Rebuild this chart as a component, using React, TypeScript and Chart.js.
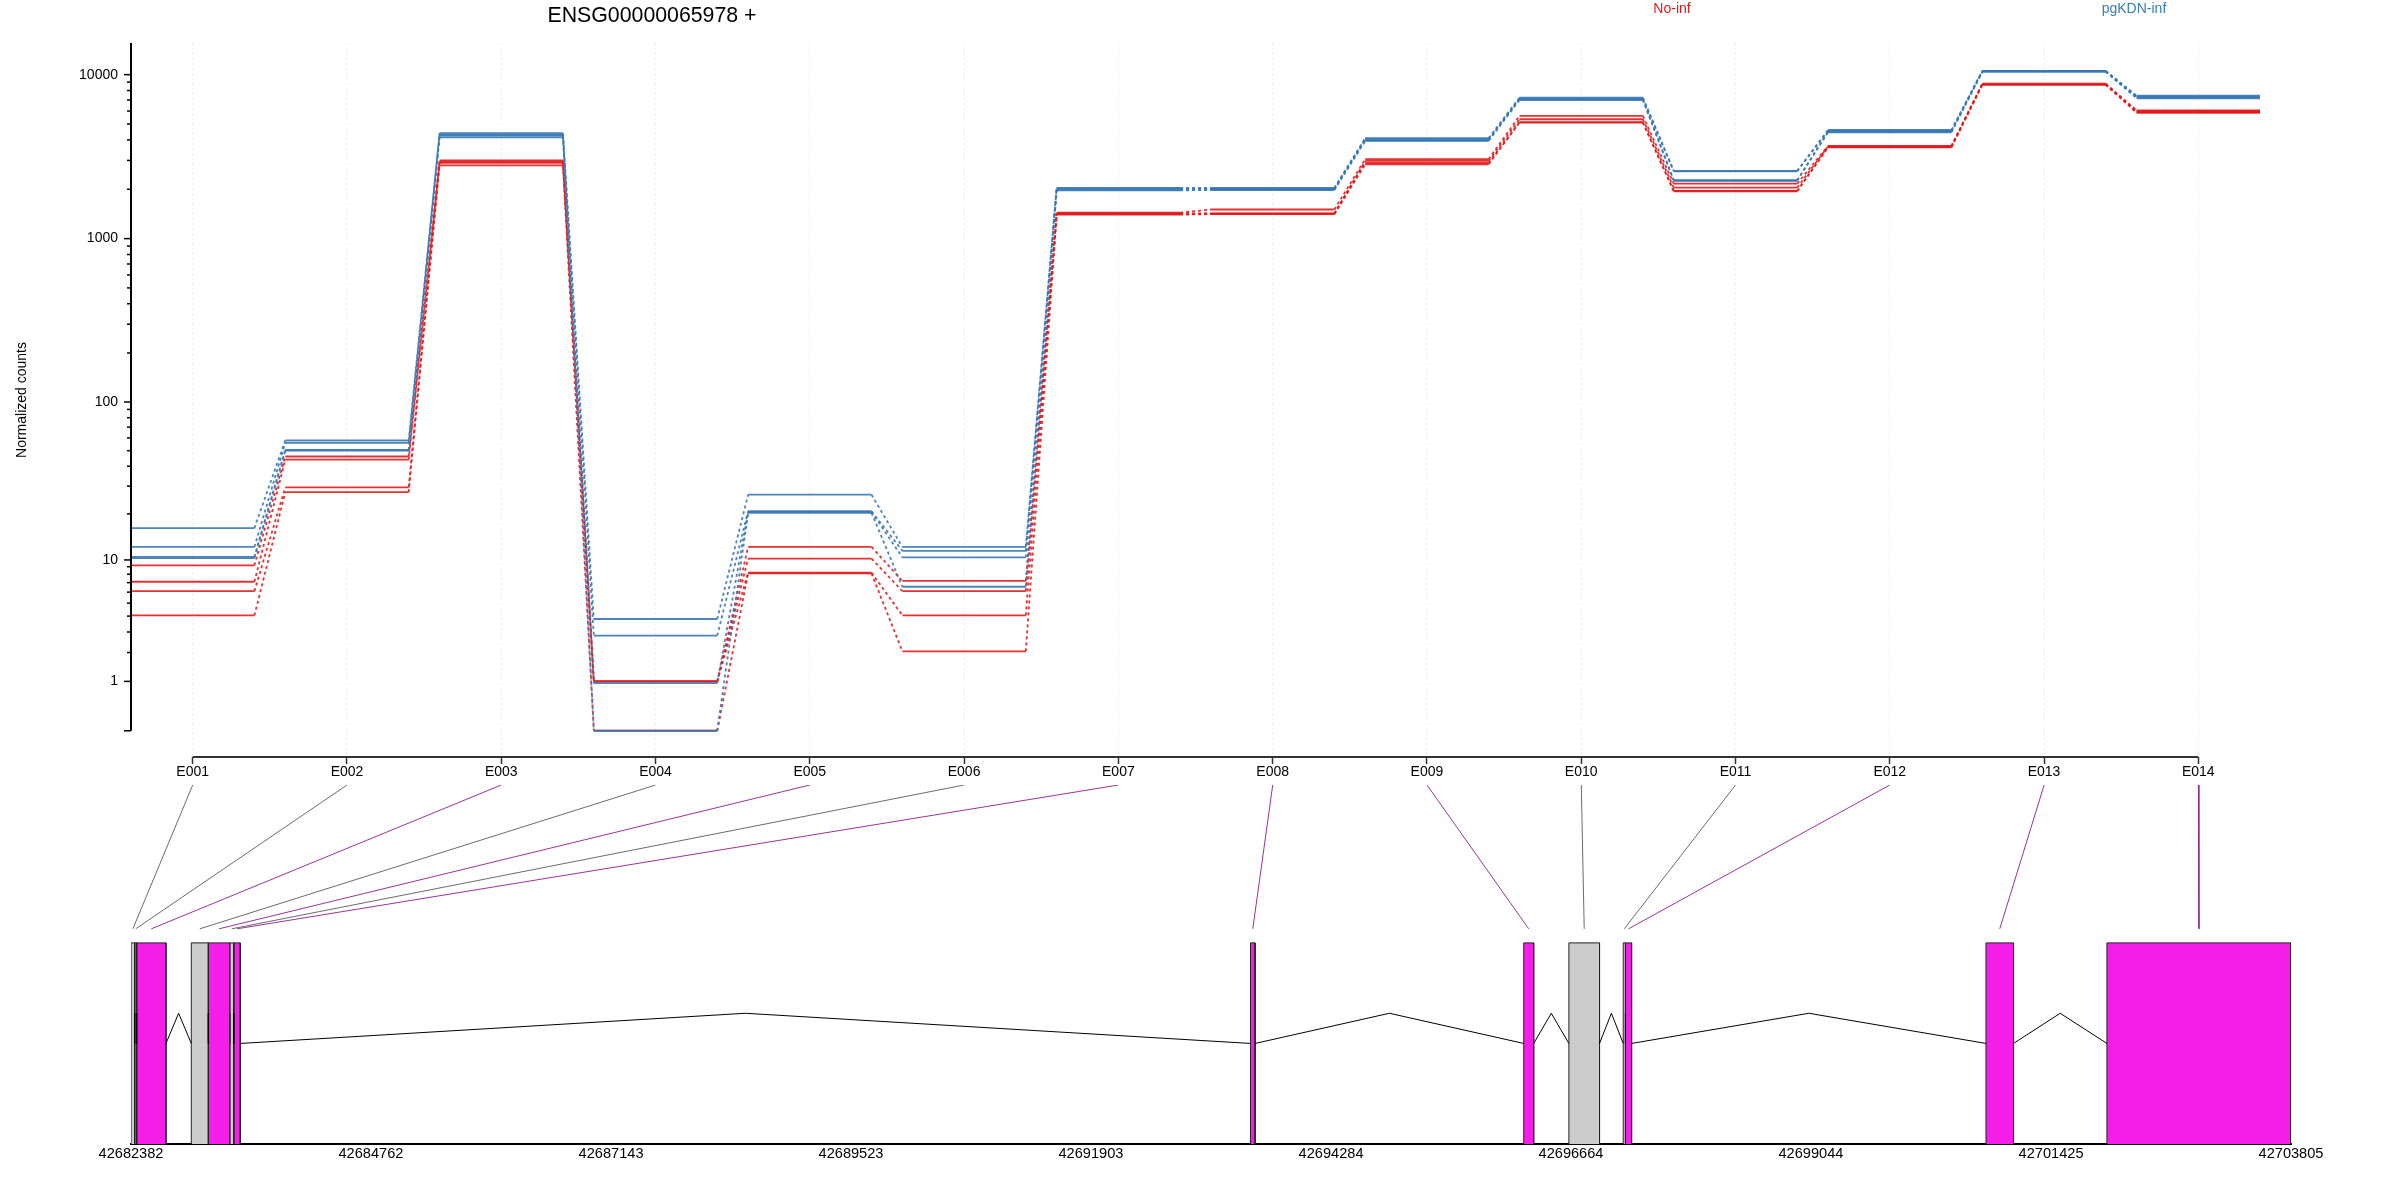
import React, { useEffect, useRef } from 'react';
import { Chart, registerables } from 'chart.js';

Chart.register(...registerables);
Chart.defaults.font.family = '"Liberation Sans", Arial, sans-serif';
Chart.defaults.font.size = 14;
Chart.defaults.color = '#000000';

// Exon bins along the gene
const exonNames = ['E001', 'E002', 'E003', 'E004', 'E005', 'E006', 'E007', 'E008', 'E009', 'E010', 'E011', 'E012', 'E013', 'E014'];

// Normalized counts per exon, one list per sample
const noInf1 = [9.2, 46, 3000, 1, 12.2, 7.2, 1440, 1505, 3050, 5600, 2163, 3680, 8800, 6050];
const noInf2 = [7.1, 44, 2950, 1, 10.2, 6.1, 1425, 1425, 2977, 5346, 2046, 3650, 8760, 5980];
const noInf3 = [6.1, 29.5, 2900, 1, 8.2, 4.05, 1410, 1420, 2895, 5128, 1954, 3630, 8720, 5920];
const noInf4 = [4.05, 27.5, 2800, 0, 8.1, 2.05, 1400, 1410, 2843, 5100, 1945, 3600, 8680, 5850];
const pgKdn1 = [16.2, 58, 4400, 3.8, 26.5, 12.2, 2040, 2040, 4100, 7250, 2590, 4600, 10550, 7450];
const pgKdn2 = [12.2, 56, 4300, 2.8, 20.8, 11.5, 2020, 2020, 4050, 7150, 2575, 4550, 10500, 7350];
const pgKdn3 = [10.5, 50.5, 4250, 0.95, 20.6, 10.4, 1990, 2000, 3980, 7100, 2270, 4500, 10450, 7280];
const pgKdn4 = [10.3, 50, 4150, 0, 20.3, 6.55, 1970, 1980, 3950, 7000, 2255, 4450, 10420, 7180];

// Count axis ticks
const majorCounts = [0, 1, 10, 100, 1000, 10000];
const minorCounts = [2, 3, 4, 5, 6, 7, 8, 9, 20, 30, 40, 50, 60, 70, 80, 90, 200, 300, 400, 500, 600, 700, 800, 900, 2000, 3000, 4000, 5000, 6000, 7000, 8000, 9000];

// Gene model: genomic start and end of each exon bin
const exonStarts = [42682382, 42682419, 42682438, 42682980, 42683149, 42683361, 42683401, 42693485, 42696195, 42696643, 42697182, 42697204, 42700780, 42701979];
const exonEnds = [42682419, 42682438, 42682729, 42683149, 42683361, 42683401, 42683466, 42693531, 42696294, 42696947, 42697204, 42697265, 42701053, 42703805];
const exonTested = [false, false, true, false, true, false, true, true, true, false, false, true, true, true];
const genomeTicks = [42682382, 42684762, 42687143, 42689523, 42691903, 42694284, 42696664, 42699044, 42701425, 42703805];

const RED = 'rgba(228,26,28,0.9)';
const BLUE = 'rgba(55,120,180,0.9)';
const MAGENTA = 'rgb(245,30,232)';
const GRAY = 'rgb(204,204,204)';

// the y axis is log10(count + 1)
const toY = (count: number) => Math.log10(count + 1);

const sampleLine = (values: number[], color: string) => ({
    data: values.flatMap((v, i) => [
        { x: i + 1 - 0.4, y: toY(v) },
        { x: i + 1 + 0.4, y: toY(v) },
    ]),
    borderColor: color,
    borderWidth: 1.8,
    pointRadius: 0,
    tension: 0,
    segment: {
        // odd segments join one exon to the next
        borderDash: (ctx: any) => (ctx.p0DataIndex % 2 === 1 ? [3, 3] : undefined),
    },
});

// Draws the axis lines and count ticks, and the loose labels of the top panel
const countAxisPlugin = {
    id: 'countAxis',
    afterDraw(chart: any) {
        const { ctx, scales } = chart;
        const yScale = scales.y;
        const xScale = scales.x;
        const left = chart.chartArea.left;
        ctx.save();
        ctx.strokeStyle = '#000000';
        ctx.lineWidth = 2;
        ctx.beginPath();
        ctx.moveTo(left, yScale.top);
        ctx.lineTo(left, yScale.getPixelForValue(toY(0)));
        ctx.stroke();
        ctx.lineWidth = 1.5;
        majorCounts.forEach((c) => {
            const y = yScale.getPixelForValue(toY(c));
            ctx.beginPath();
            ctx.moveTo(left - 7, y);
            ctx.lineTo(left, y);
            ctx.stroke();
        });
        minorCounts.forEach((c) => {
            const y = yScale.getPixelForValue(toY(c));
            ctx.beginPath();
            ctx.moveTo(left - 4, y);
            ctx.lineTo(left, y);
            ctx.stroke();
        });
        ctx.strokeStyle = '#333333';
        ctx.lineWidth = 2;
        ctx.beginPath();
        ctx.moveTo(xScale.getPixelForValue(1), yScale.bottom);
        ctx.lineTo(xScale.getPixelForValue(exonNames.length), yScale.bottom);
        ctx.stroke();

        ctx.textAlign = 'center';
        ctx.textBaseline = 'middle';
        ctx.fillStyle = '#000000';
        ctx.font = '21.3px "Liberation Sans"';
        ctx.fillText('ENSG00000065978 +', 652, 16);
        ctx.font = '14px "Liberation Sans"';
        ctx.fillStyle = 'rgb(228,26,28)';
        ctx.fillText('No-inf', 1672, 9);
        ctx.fillStyle = 'rgb(55,126,184)';
        ctx.fillText('pgKDN-inf', 2134, 9);
        ctx.restore();
    },
};

// y runs 0 to 1 inside the exon boxes, connectors sit above them
const BOX_TOP = 1;
const INTRON_Y = 0.5;
const INTRON_PEAK = 0.65;
const CONNECT_LOW = 1.07;
const CONNECT_HIGH = 1.785;

const genomeStart = genomeTicks[0];
const genomeEnd = genomeTicks[genomeTicks.length - 1];
// the E ticks of the top panel in genomic units: one exon step is 1/14 of the region
const exonTickGenomic = (i: number) => genomeStart + ((i + 1 - 0.6) * (genomeEnd - genomeStart)) / 14;

const exonBoxes = exonStarts.map((start, i) => ({
    data: [
        { x: start, y: 0 },
        { x: start, y: BOX_TOP },
        { x: exonEnds[i], y: BOX_TOP },
        { x: exonEnds[i], y: 0 },
    ],
    borderColor: '#222222',
    borderWidth: 1,
    backgroundColor: exonTested[i] ? MAGENTA : GRAY,
    fill: 'origin',
    pointRadius: 0,
    tension: 0,
}));

const introns = exonStarts.slice(1).map((nextStart, i) => ({
    data: [
        { x: exonEnds[i], y: INTRON_Y },
        { x: (exonEnds[i] + nextStart) / 2, y: INTRON_PEAK },
        { x: nextStart, y: INTRON_Y },
    ],
    borderColor: '#000000',
    borderWidth: 1,
    pointRadius: 0,
    tension: 0,
}));

const connectors = exonStarts.map((start, i) => ({
    data: [
        { x: exonTickGenomic(i), y: CONNECT_HIGH },
        { x: (start + exonEnds[i]) / 2, y: CONNECT_LOW },
    ],
    borderColor: exonTested[i] ? 'rgb(140,30,140)' : 'rgb(90,90,90)',
    borderWidth: 0.9,
    pointRadius: 0,
    tension: 0,
}));

export default function App() {
    const countsRef = useRef<HTMLCanvasElement>(null);
    const geneRef = useRef<HTMLCanvasElement>(null);

    useEffect(() => {
        if (!countsRef.current || !geneRef.current) return;

        const countsChart = new Chart(countsRef.current, {
            type: 'line',
            data: {
                datasets: [
                    ...[pgKdn1, pgKdn2, pgKdn3, pgKdn4].map((s) => sampleLine(s, BLUE)),
                    ...[noInf1, noInf2, noInf3, noInf4].map((s) => sampleLine(s, RED)),
                ],
            },
            options: {
                animation: false,
                responsive: false,
                devicePixelRatio: 1,
                layout: { padding: { top: 43, right: 140, left: 0, bottom: 0 } },
                plugins: { legend: { display: false }, tooltip: { enabled: false } },
                scales: {
                    x: {
                        type: 'linear',
                        min: 0.6,
                        max: 14.4,
                        afterBuildTicks: (scale: any) => {
                            scale.ticks = exonNames.map((_, i) => ({ value: i + 1 }));
                        },
                        afterFit: (scale: any) => {
                            scale.height = 33;
                        },
                        border: { display: false, dash: [2, 3] },
                        grid: { color: 'rgba(220,195,235,0.4)', tickColor: '#333333', tickLength: 7, tickWidth: 1.5, tickBorderDash: [] },
                        ticks: {
                            autoSkip: false,
                            maxRotation: 0,
                            padding: 0,
                            callback: (value: any) => exonNames[value - 1],
                        },
                    },
                    y: {
                        type: 'linear',
                        min: -0.16,
                        max: 4.193,
                        afterBuildTicks: (scale: any) => {
                            scale.ticks = majorCounts.filter((c) => c > 0).map((c) => ({ value: toY(c) }));
                        },
                        afterFit: (scale: any) => {
                            scale.width = 131;
                        },
                        border: { display: false },
                        grid: { display: false, drawTicks: false },
                        title: { display: true, text: 'Normalized counts', font: { size: 14 }, padding: { top: 14, bottom: 0 } },
                        ticks: {
                            autoSkip: false,
                            padding: 13,
                            callback: (value: any) => String(Math.round(10 ** value - 1)),
                        },
                    },
                },
            },
            plugins: [countAxisPlugin],
        } as any);

        const geneChart = new Chart(geneRef.current, {
            type: 'line',
            data: { datasets: [...introns, ...connectors, ...exonBoxes] },
            options: {
                animation: false,
                responsive: false,
                devicePixelRatio: 1,
                layout: { padding: { top: 5, right: 109, left: 0, bottom: 0 } },
                plugins: { legend: { display: false }, tooltip: { enabled: false } },
                scales: {
                    x: {
                        type: 'linear',
                        min: genomeStart,
                        max: genomeEnd,
                        afterBuildTicks: (scale: any) => {
                            scale.ticks = genomeTicks.map((value) => ({ value }));
                        },
                        afterFit: (scale: any) => {
                            scale.height = 56;
                        },
                        border: { display: true, color: '#000000', width: 2 },
                        grid: { display: false, drawTicks: false },
                        ticks: {
                            autoSkip: false,
                            maxRotation: 0,
                            padding: 1,
                            font: { size: 14.6 },
                            callback: (value: any) => String(value),
                        },
                    },
                    y: {
                        type: 'linear',
                        min: 0,
                        max: CONNECT_HIGH,
                        display: true,
                        afterFit: (scale: any) => {
                            scale.width = 131;
                        },
                        border: { display: false },
                        grid: { display: false, drawTicks: false },
                        ticks: { display: false },
                    },
                },
            },
        } as any);

        return () => {
            countsChart.destroy();
            geneChart.destroy();
        };
    }, []);

    return (
        <div style={{ position: 'absolute', left: 0, top: 0, width: 2400, height: 1200, background: '#ffffff', overflow: 'hidden' }}>
            <canvas ref={countsRef} width={2400} height={790} style={{ position: 'absolute', left: 0, top: 0 }} />
            <canvas ref={geneRef} width={2400} height={420} style={{ position: 'absolute', left: 0, top: 780 }} />
        </div>
    );
}
